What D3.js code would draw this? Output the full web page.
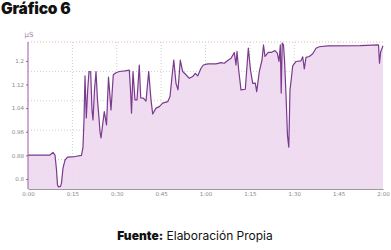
<!DOCTYPE html>
<html>
<head>
<meta charset="utf-8">
<script src="https://cdn.jsdelivr.net/npm/d3@7"></script>
<style>
  body { margin: 0; background: #fff; }
  svg { display: block; }
</style>
</head>
<body>
<svg id="chart" width="391" height="250"></svg>
<script>
// time in minutes, conductance in µS
const minutes = [0, 4.06, 7.44, 8.45, 9.13, 9.63, 9.97, 10.31, 10.99, 11.32, 11.83, 12.51, 13.35, 15.89, 18.08,
  18.59, 18.93, 19.27, 19.71, 20.18, 20.62, 21.19, 21.63, 21.97, 22.48, 22.99, 23.49, 24.0, 24.34, 24.68, 25.01,
  25.79, 26.54, 27.21, 28.06, 28.83, 29.75, 30.86, 32.79, 34.24, 34.65, 34.99, 35.49, 36.17, 36.85, 37.62, 38.10,
  38.97, 39.89, 40.80, 41.58, 42.15, 43.27, 44.38, 45.53, 47.22, 48.0, 48.68, 49.28, 50.03, 50.70, 50.97, 51.48,
  52.29, 53.41, 54.52, 55.67, 56.55, 57.36, 58.48, 59.26, 60.85, 63.55, 65.24, 66.36, 67.51, 68.62, 69.74, 70.31,
  70.65, 71.22, 72.0, 73.45, 74.47, 75.21, 75.96, 76.83, 77.31, 78.19, 79.10, 79.61, 80.11, 81.23, 82.38, 83.49,
  84.27, 84.85, 85.29, 85.59, 85.93, 86.37, 86.71, 87.21, 87.72, 88.16, 88.56, 88.97, 89.48, 90.59, 92.28, 92.86,
  93.40, 93.97, 95.09, 96.24, 97.35, 98.47, 101.41, 112.23, 118.48, 118.82, 119.22, 120];
const microS = [0.881, 0.881, 0.881, 0.890, 0.881, 0.831, 0.780, 0.773, 0.775, 0.786, 0.837, 0.864, 0.874, 0.876, 0.880,
  0.908, 1.000, 1.149, 1.007, 1.102, 1.164, 1.163, 1.034, 1.000, 1.102, 1.164, 1.068, 1.007, 0.959, 0.939, 0.966,
  1.028, 0.983, 1.145, 1.034, 1.153, 1.160, 1.164, 1.166, 1.169, 1.102, 1.023, 1.164, 1.068, 1.068, 1.186, 1.075,
  1.074, 1.064, 1.164, 1.068, 1.020, 1.040, 1.045, 1.057, 1.062, 1.079, 1.147, 1.203, 1.124, 1.102, 1.136, 1.203,
  1.164, 1.153, 1.141, 1.147, 1.158, 1.149, 1.175, 1.186, 1.190, 1.190, 1.194, 1.192, 1.201, 1.209, 1.228, 1.186,
  1.232, 1.169, 1.102, 1.104, 1.243, 1.169, 1.124, 1.125, 1.096, 1.164, 1.203, 1.254, 1.215, 1.229, 1.229, 1.235,
  1.226, 1.198, 1.254, 1.091, 1.260, 1.254, 1.203, 1.085, 0.946, 0.908, 1.102, 1.136, 1.183, 1.198, 1.200, 1.214,
  1.173, 1.212, 1.215, 1.224, 1.243, 1.248, 1.251, 1.252, 1.254, 1.192, 1.231, 1.251];

const xTicks = [0, 15, 30, 45, 60, 75, 90, 105, 120];
const xTickLabels = ['0:00', '0:15', '0:30', '0:45', '1:00', '1:15', '1:30', '1:45', '2:00'];
const yTicks = [0.8, 0.88, 0.96, 1.04, 1.12, 1.2];
const yTickLabels = ['0.8', '0.88', '0.96', '1.04', '1.12', '1.2'];

const data = minutes.map((t, i) => ({ t: t, v: microS[i] }));

const margin = { top: 42, right: 8, bottom: 61, left: 28 };
const width = 391 - margin.left - margin.right;
const height = 250 - margin.top - margin.bottom;

const svg = d3.select('#chart');

svg.append('text')
  .attr('x', 1).attr('y', 14)
  .style('font-family', 'Inter, sans-serif')
  .style('font-weight', 900)
  .style('font-size', '15.5px')
  .style('letter-spacing', '-0.2px')
  .style('fill', '#111')
  .text('Gráfico 6');

const foot = svg.append('text')
  .attr('x', 195).attr('y', 240)
  .attr('text-anchor', 'middle')
  .style('font-family', 'Inter, sans-serif')
  .style('font-size', '12px')
  .style('fill', '#111');
foot.append('tspan').style('font-weight', 900).text('Fuente:');
foot.append('tspan').text(' Elaboración Propia');

const g = svg.append('g').attr('transform', 'translate(' + margin.left + ',' + margin.top + ')');

const x = d3.scaleLinear().domain([0, 120]).range([0, width]);
const y = d3.scaleLinear().domain([0.766, 1.264]).range([height, 0]);

// horizontal grid: five even bands
const gridY = d3.range(5).map(i => i * height / 5);
g.selectAll('.hgrid')
  .data(gridY)
  .enter().append('line')
  .attr('x1', 0).attr('x2', width)
  .attr('y1', d => d).attr('y2', d => d)
  .style('stroke', (d, i) => i === 0 ? '#e8b8a8' : '#cfcfcf')
  .style('stroke-width', 1)
  .style('stroke-dasharray', '1,2');

g.selectAll('.vgrid')
  .data(xTicks.slice(1, -1))
  .enter().append('line')
  .attr('x1', d => x(d)).attr('x2', d => x(d))
  .attr('y1', 0).attr('y2', height)
  .style('stroke', '#cfcfcf')
  .style('stroke-dasharray', '1,2');

const area = d3.area()
  .x(d => x(d.t))
  .y0(height)
  .y1(d => y(d.v));

g.append('path')
  .datum(data)
  .attr('d', area)
  .style('fill', '#eed8ee')
  .style('fill-opacity', 0.9);

const line = d3.line()
  .x(d => x(d.t))
  .y(d => y(d.v));

g.append('path')
  .datum(data)
  .attr('d', line)
  .style('fill', 'none')
  .style('stroke', '#7a3a8e')
  .style('stroke-width', 1.2)
  .style('stroke-linejoin', 'round');

const xAxis = d3.axisBottom(x)
  .tickValues(xTicks)
  .tickFormat((d, i) => xTickLabels[i])
  .tickSize(0)
  .tickPadding(3);

const gx = g.append('g')
  .attr('transform', 'translate(0,' + height + ')')
  .call(xAxis);
gx.select('.domain').style('stroke', '#999');
gx.selectAll('text')
  .style('font-family', 'DejaVu Sans, sans-serif')
  .style('font-size', '5.5px')
  .style('fill', '#888');

const yAxis = d3.axisLeft(y)
  .tickValues(yTicks)
  .tickFormat((d, i) => yTickLabels[i])
  .tickSize(2)
  .tickPadding(2);

const gy = g.append('g').call(yAxis);
gy.select('.domain').style('stroke', '#9b5aa8').attr('d', 'M0,0V' + height);
gy.selectAll('.tick line').style('stroke', '#9b5aa8');
gy.selectAll('text')
  .style('font-family', 'DejaVu Sans, sans-serif')
  .style('font-size', '5.5px')
  .style('fill', '#888');

g.append('text')
  .attr('x', 1).attr('y', -5)
  .attr('text-anchor', 'middle')
  .style('font-family', 'DejaVu Sans, sans-serif')
  .style('font-size', '7px')
  .style('fill', '#a07cae')
  .text('µS');
</script>
</body>
</html>
